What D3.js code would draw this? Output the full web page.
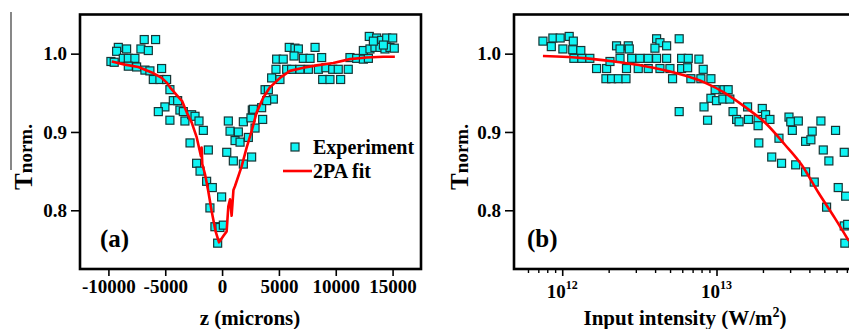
<!DOCTYPE html>
<html>
<head>
<meta charset="utf-8">
<script src="https://cdn.jsdelivr.net/npm/d3@7"></script>
<style>
  body { margin: 0; background: #fff; }
  svg, svg text { font-family: "Liberation Serif", "Times New Roman", "DejaVu Serif", serif; font-weight: bold; }
</style>
</head>
<body>
<svg id="chart" width="849" height="329"></svg>
<script>
// ---- panel (a): z-scan ----
const expZ = [-6850, -5850, -9130, -8400, -7140, -6490, -9280, -9780, -9490, -8690, -8250, -7670, -8250, -7520,
  -6790, -6350, -5320, -6050, -5470, -4880, -4590, -4290, -3910, -5030, -5610, -4590, -3710, -3410, -3270, -2680,
  -2380, -2030, -1650, -2820, -1210, -2240, -1940, -1360, -860, -40, -1070, -630, -190, 110, -390,
  550, 1870, 2540, 2660, 700, 1430, 1140, 1580, 2310, 410, 990, 1870, 2600,
  2750, 3480, 3570, 2900, 3780, 4070, 4510, 3920, 4360, 5090, 4740, 4800, 5380, 5910, 6410, 6710, 6330, 7150,
  7740, 8180, 8760, 5680, 6120, 6850, 7590, 8470, 9140, 9730, 10220, 11100, 8850, 9490, 10430, 11250, 11840,
  12430, 12870, 12430, 13010, 12950, 13600, 14040, 14480, 15010, 13450, 13890, 14330, 14770, 15150, 13310, 14190];
const expTa = [1.018, 1.018, 1.008, 1.006, 1.006, 1.004, 1.003, 0.990, 0.989, 0.994, 0.994, 0.994, 0.984, 0.983,
  0.979, 0.978, 0.981, 0.967, 0.967, 0.967, 0.954, 0.940, 0.940, 0.932, 0.926, 0.915, 0.928, 0.926, 0.914, 0.922,
  0.920, 0.914, 0.902, 0.886, 0.877, 0.860, 0.850, 0.837, 0.829, 0.817, 0.803, 0.779, 0.778, 0.781, 0.758,
  0.914, 0.913, 0.918, 0.928, 0.901, 0.900, 0.889, 0.887, 0.893, 0.874, 0.863, 0.859, 0.868,
  0.929, 0.931, 0.916, 0.905, 0.954, 0.954, 0.942, 0.940, 0.969, 0.967, 0.980, 0.993, 0.993, 1.008, 1.007, 1.006,
  0.997, 0.994, 0.994, 1.008, 0.995, 0.980, 0.980, 0.980, 0.980, 0.980, 0.982, 0.980, 0.980, 0.980, 0.967, 0.967,
  0.967, 0.995, 0.994, 0.993, 0.994, 1.004, 1.006, 1.022, 1.020, 1.017, 1.020, 1.020, 1.008, 1.008, 1.006, 1.008,
  1.007, 1.016, 1.011];
const fitZ = [-9710, -8540, -7370, -6190, -5310, -4870, -4580, -3990, -3500, -3110, -2670, -2230, -1860, -1800,
  -1740, -1500, -1210, -920, -570, -270, 110, 400, 550, 700, 840, 1000, 1140, 1720, 2160, 2600, 3040, 3630, 4210,
  5090, 5970, 7150, 8320, 9780, 11250, 12720, 14180, 15200];
const fitTa = [0.990, 0.986, 0.983, 0.976, 0.969, 0.963, 0.957, 0.947, 0.939, 0.925, 0.912, 0.893, 0.869, 0.880,
  0.859, 0.846, 0.824, 0.799, 0.773, 0.759, 0.767, 0.773, 0.805, 0.814, 0.793, 0.826, 0.831, 0.856, 0.880, 0.901,
  0.925, 0.944, 0.957, 0.969, 0.978, 0.982, 0.985, 0.988, 0.993, 0.995, 0.996, 0.996];
const zTicks = [-10000, -5000, 0, 5000, 10000, 15000];

// ---- panel (b): intensity ----
const expI = [7.5e11, 8.5e11, 8.7e11, 9.7e11, 1.11e12, 1.01e12, 1.18e12, 1.17e12, 1.32e12, 1.19e12, 1.34e12, 1.51e12,
  1.67e12, 1.94e12, 2.04e12, 1.92e12, 2.09e12, 2.31e12, 2.59e12, 2.25e12, 2.37e12, 2.68e12, 2.72e12, 2.37e12,
  2.61e12, 2.82e12, 3.19e12, 3.61e12, 3.11e12, 3.61e12, 4.09e12, 4.30e12, 3.99e12, 4.75e12, 4.09e12, 4.75e12,
  4.30e12, 4.99e12, 5.19e12, 5.73e12, 5.94e12, 5.94e12, 5.73e12,
  6.56e12, 6.5e12, 7.69e12, 8.2e12, 6.82e12, 7.92e12, 9.2e12, 9.8e12, 1.12e13, 1.19e13, 9.2e12, 1.0e13, 1.10e13,
  1.22e13, 8.3e12, 8.75e12, 1.28e13, 1.35e13, 1.40e13, 1.59e13, 1.61e13, 1.86e13, 1.86e13, 1.98e13, 2.08e13,
  2.22e13, 1.88e13, 2.54e13, 2.28e13, 2.64e13, 2.95e13, 3.03e13, 3.39e13, 3.10e13, 3.26e13, 3.78e13, 4.30e13,
  3.78e13, 4.09e13, 4.17e13, 4.75e13, 4.92e13, 5.35e13, 5.91e13, 5.17e13, 6.15e13, 6.73e13, 6.87e13, 6.73e13,
  7.08e13, 6.79e13];
const expTb = [1.016, 1.009, 1.020, 1.020, 1.022, 1.006, 1.016, 1.005, 1.004, 0.994, 0.994, 0.994,
  0.981, 0.981, 0.990, 0.968, 0.968, 0.968, 0.968, 1.010, 1.006, 1.010, 1.006, 0.994,
  0.981, 0.994, 0.994, 0.994, 0.981, 0.981, 1.019, 1.014, 1.007, 1.010, 0.994, 0.994,
  0.981, 0.981, 0.968, 1.019, 0.994, 0.981, 0.926,
  0.994, 0.982, 0.993, 0.980, 0.968, 0.968, 0.968, 0.954, 0.954, 0.954, 0.943, 0.940, 0.942,
  0.942, 0.932, 0.915, 0.926, 0.916, 0.913, 0.932, 0.916, 0.916, 0.908, 0.930, 0.922,
  0.916, 0.886, 0.892, 0.868, 0.860, 0.919, 0.913, 0.914, 0.902, 0.858, 0.849, 0.836,
  0.888, 0.890, 0.901, 0.914, 0.877, 0.863, 0.902, 0.804, 0.829, 0.874, 0.818, 0.780,
  0.782, 0.758];
const fitI = [7.5e11, 1.44e12, 2.37e12, 3.89e12, 6.24e12, 8.4e12, 1.13e13, 1.53e13, 2.06e13, 2.77e13, 3.56e13,
  4.56e13, 5.85e13, 7.2e13];
const fitTb = [0.997, 0.994, 0.989, 0.982, 0.972, 0.963, 0.950, 0.932, 0.912, 0.884, 0.858, 0.823, 0.790, 0.761];
const iMajor = [1e12, 1e13];
const iMinor = [6e11, 7e11, 8e11, 9e11, 2e12, 3e12, 4e12, 5e12, 6e12, 7e12, 8e12, 9e12,
  2e13, 3e13, 4e13, 5e13, 6e13, 7e13];

const tTicks = [0.8, 0.9, 1.0];

const svg = d3.select('#chart');
const yTop = 14.5, yBottom = 269;
const y = d3.scaleLinear().domain([0.725, 1.05]).range([yBottom, yTop]);

const xA = d3.scaleLinear().domain([-12500, 17500]).range([80, 421]);
const xB = d3.scaleLog().domain([4.87e11, 7.9e13]).range([514, 855]);

const sq = 8;

function drawPanel(x, xs, ts, fx, ft, curve) {
  const g = svg.append('g');

  // y axis
  const ya = g.append('g')
      .attr('transform', 'translate(' + x.range()[0] + ',0)')
      .call(d3.axisLeft(y).tickValues(tTicks).tickSize(9).tickPadding(4).tickFormat(d3.format('.1f')));
  ya.attr('font-family', null).attr('font-size', null);
  ya.select('.domain').remove();
  ya.selectAll('line').attr('stroke-width', 1.6);
  ya.selectAll('text').style('font-size', '19px');

  // data points
  g.selectAll('rect.pt')
      .data(xs.map((v, i) => [v, ts[i]]))
      .enter().append('rect')
      .attr('class', 'pt')
      .attr('x', d => x(d[0]) - sq / 2)
      .attr('y', d => y(d[1]) - sq / 2)
      .attr('width', sq)
      .attr('height', sq)
      .attr('fill', '#10f4f4')
      .attr('stroke', '#173535')
      .attr('stroke-width', 1.2);

  // fit line
  g.append('path')
      .datum(fx.map((v, i) => [v, ft[i]]))
      .attr('fill', 'none')
      .attr('stroke', '#ff0000')
      .attr('stroke-width', 2.6)
      .attr('stroke-linejoin', 'round')
      .attr('d', d3.line().curve(curve).x(d => x(d[0])).y(d => y(d[1])));

  // frame
  g.append('rect')
      .attr('x', x.range()[0])
      .attr('y', yTop)
      .attr('width', x.range()[1] - x.range()[0])
      .attr('height', yBottom - yTop)
      .attr('fill', 'none')
      .attr('stroke', '#000')
      .attr('stroke-width', 2.6);
  return g;
}

// ---- (a) ----
const gA = drawPanel(xA, expZ, expTa, fitZ, fitTa, d3.curveLinear);
const xaA = gA.append('g')
    .attr('transform', 'translate(0,' + yBottom + ')')
    .call(d3.axisBottom(xA).tickValues(zTicks).tickSize(7).tickPadding(4).tickFormat(d => d));
xaA.attr('font-family', null).attr('font-size', null);
xaA.select('.domain').remove();
xaA.selectAll('line').attr('stroke-width', 1.6);
xaA.selectAll('text').style('font-size', '19px');

gA.append('text')
    .attr('x', 250).attr('y', 325)
    .attr('text-anchor', 'middle')
    .style('font-size', '21px')
    .text('z (microns)');

const ylA = gA.append('text')
    .attr('transform', 'translate(32,157) rotate(-90)')
    .attr('text-anchor', 'middle');
ylA.append('tspan').style('font-size', '25px').text('T');
ylA.append('tspan').style('font-size', '19px').text('norm.');

// odd long bar above the T label
gA.append('line')
    .attr('x1', 11).attr('x2', 11)
    .attr('y1', 12).attr('y2', 170)
    .attr('stroke', '#555').attr('stroke-width', 1.4);

gA.append('text')
    .attr('x', 100).attr('y', 247)
    .style('font-size', '25px')
    .text('(a)');

// legend
gA.append('rect')
    .attr('x', 295 - sq / 2).attr('y', 147 - sq / 2)
    .attr('width', sq).attr('height', sq)
    .attr('fill', '#10f4f4').attr('stroke', '#173535').attr('stroke-width', 1.2);
gA.append('text')
    .attr('x', 313).attr('y', 154)
    .style('font-size', '20px')
    .text('Experiment');
gA.append('line')
    .attr('x1', 283).attr('x2', 312)
    .attr('y1', 171).attr('y2', 171)
    .attr('stroke', '#ff0000').attr('stroke-width', 2.6);
gA.append('text')
    .attr('x', 313).attr('y', 178)
    .style('font-size', '20px')
    .text('2PA fit');

// ---- (b) ----
const gB = drawPanel(xB, expI, expTb, fitI, fitTb, d3.curveMonotoneX);
const xaB = gB.append('g')
    .attr('transform', 'translate(0,' + yBottom + ')')
    .call(d3.axisBottom(xB).tickValues(iMajor).tickSize(7).tickFormat(''));
xaB.select('.domain').remove();
xaB.selectAll('line').attr('stroke-width', 1.6);
const xmB = gB.append('g')
    .attr('transform', 'translate(0,' + yBottom + ')')
    .call(d3.axisBottom(xB).tickValues(iMinor).tickSize(4).tickFormat(''));
xmB.select('.domain').remove();
xmB.selectAll('line').attr('stroke-width', 1.4);

iMajor.forEach(v => {
  const t = gB.append('text')
      .attr('x', xB(v)).attr('y', 298)
      .attr('text-anchor', 'middle');
  t.append('tspan').style('font-size', '19px').text('10');
  t.append('tspan').attr('dy', -9).style('font-size', '12px').text(String(Math.round(Math.log10(v))));
});

const xlB = gB.append('text')
    .attr('x', 685).attr('y', 325)
    .attr('text-anchor', 'middle')
    .style('font-size', '21px');
xlB.append('tspan').text('Input intensity (W/m');
xlB.append('tspan').attr('dy', -8).style('font-size', '14px').text('2');
xlB.append('tspan').attr('dy', 8).text(')');

const ylB = gB.append('text')
    .attr('transform', 'translate(468,157) rotate(-90)')
    .attr('text-anchor', 'middle');
ylB.append('tspan').style('font-size', '25px').text('T');
ylB.append('tspan').style('font-size', '19px').text('norm.');

gB.append('text')
    .attr('x', 527).attr('y', 247)
    .style('font-size', '25px')
    .text('(b)');
</script>
</body>
</html>
